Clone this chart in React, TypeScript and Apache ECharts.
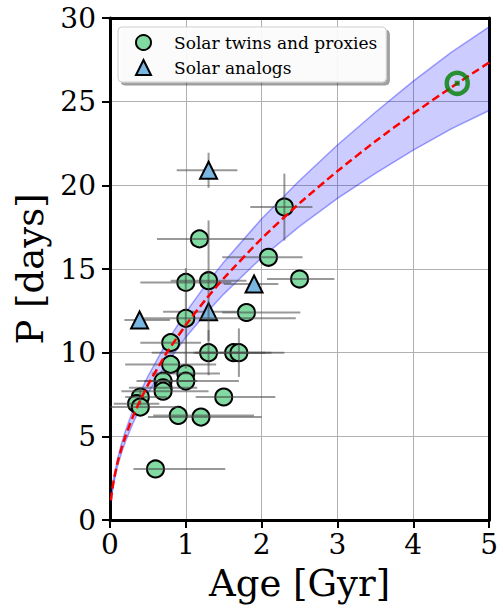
import React, { useEffect, useRef } from "react";
import * as echarts from "echarts";

// Solar twins and proxies
const twinAge = [2.3, 1.18, 2.09, 1.0, 1.3, 2.5, 1.8, 1.0, 0.8, 1.3, 1.63, 1.7, 0.8, 1.0, 1.0, 0.7, 0.7, 0.7, 1.5, 0.4, 0.35, 0.4, 0.9, 1.2, 0.6];
const twinP = [18.7, 16.8, 15.7, 14.2, 14.3, 14.4, 12.4, 12.05, 10.6, 10.0, 10.0, 10.0, 9.3, 8.75, 8.3, 8.3, 7.9, 7.7, 7.35, 7.35, 6.95, 6.75, 6.25, 6.15, 3.05];
const twinAgeErrLo = [0.45, 0.56, 0.61, 0.6, 0.5, 0.43, 0.32, 0.55, 0.4, 0.75, 0.5, 0.6, 0.6, 0.45, 0.55, 0.35, 0.45, 0.55, 0.37, 0.2, 0.3, 0.4, 0.33, 0.7, 0.29];
const twinAgeErrHi = [0.37, 0.72, 0.45, 0.6, 0.5, 0.46, 0.71, 1.45, 0.4, 0.75, 0.5, 0.6, 0.6, 0.45, 0.7, 0.45, 0.45, 0.6, 0.68, 0.35, 0.3, 0.5, 1.0, 0.8, 0.92];
const twinPErr = [2.0, 0, 0, 0, 3.6, 0, 0, 3.0, 0, 1.35, 0, 1.45, 0, 0, 0, 0, 0, 0, 0, 0.5, 0, 0, 0, 0, 0];

// Solar analogs
const analogAge = [1.3, 1.9, 1.3, 0.39];
const analogP = [20.9, 14.1, 12.45, 11.95];
const analogAgeErrLo = [0.42, 0.4, 0.6, 0.2];
const analogAgeErrHi = [0.38, 0.32, 0.6, 0.4];
const analogPErr = [1.05, 0, 0, 0];

// The Sun
const sunAge = [4.58];
const sunP = [26.1];

// Rotation-age relation and its uncertainty band
const modelAge = [0.013, 0.025, 0.05, 0.1, 0.15, 0.2, 0.3, 0.4, 0.5, 0.75, 1, 1.25, 1.5, 2, 2.5, 3, 3.5, 4, 4.5, 5];
const modelP = [1.17, 1.65, 2.38, 3.44, 4.26, 4.96, 6.15, 7.17, 8.07, 10.0, 11.65, 13.11, 14.44, 16.82, 18.93, 20.85, 22.63, 24.29, 25.85, 27.34];
const bandUpper = [1.25, 1.76, 2.53, 3.66, 4.54, 5.28, 6.55, 7.64, 8.59, 10.65, 12.41, 13.98, 15.41, 18.0, 20.29, 22.41, 24.37, 26.23, 27.94, 29.47];
const bandLower = [1.1, 1.55, 2.23, 3.22, 3.99, 4.65, 5.76, 6.72, 7.56, 9.37, 10.92, 12.27, 13.5, 15.68, 17.55, 19.22, 20.71, 22.1, 23.37, 24.47];

const xTicks = [0, 1, 2, 3, 4, 5];
const yTicks = [0, 5, 10, 15, 20, 25, 30];

const FONT = "DejaVu Serif";

export default function App() {
  const ref = useRef<HTMLDivElement>(null);
  useEffect(() => {
    if (!ref.current) return;
    const chart = echarts.init(ref.current, null, { renderer: "svg" });

    const errData = (ages: number[], ps: number[], lo: number[], hi: number[], pe: number[]) =>
      ages.map((a, i) => [a, ps[i], a - lo[i], a + hi[i], ps[i] - pe[i], ps[i] + pe[i]]);

    const errRender = (params: any, api: any) => {
      const c = api.coord([api.value(0), api.value(1)]);
      const l = api.coord([api.value(2), api.value(1)]);
      const r = api.coord([api.value(3), api.value(1)]);
      const b = api.coord([api.value(0), api.value(4)]);
      const t = api.coord([api.value(0), api.value(5)]);
      const style = { stroke: "rgba(70,70,70,0.55)", lineWidth: 2 };
      const children: any[] = [
        { type: "line", shape: { x1: l[0], y1: c[1], x2: r[0], y2: c[1] }, style },
      ];
      if (api.value(5) - api.value(4) > 0) {
        children.push({ type: "line", shape: { x1: c[0], y1: t[1], x2: c[0], y2: b[1] }, style });
      }
      return { type: "group", children };
    };

    const axisCommon = {
      type: "value" as const,
      min: 0,
    };

    chart.setOption({
      animation: false,
      backgroundColor: "#ffffff",
      grid: { left: 110, right: 9, top: 18, bottom: 89 },
      legend: {
        orient: "vertical",
        left: 118,
        top: 27,
        padding: [7, 9, 6, 17],
        itemWidth: 15,
        itemHeight: 15,
        itemGap: 8,
        data: ["Solar twins and proxies", "Solar analogs"],
        textStyle: { fontFamily: FONT, fontSize: 17, lineHeight: 16, color: "#000", padding: [0, 0, 0, 18] },
        backgroundColor: "rgba(255,255,255,0.9)",
        borderColor: "#cccccc",
        borderWidth: 1,
        borderRadius: 4,
        shadowColor: "rgba(0,0,0,0.4)",
        shadowBlur: 0,
        shadowOffsetX: 3,
        shadowOffsetY: 3,
      },
      xAxis: [
        {
          ...axisCommon,
          max: 5,
          interval: 1,
          name: "Age [Gyr]",
          nameLocation: "middle",
          nameGap: 45,
          nameTextStyle: { fontFamily: FONT, fontSize: 37, color: "#000" },
          axisLine: { show: true, onZero: false, lineStyle: { color: "#000", width: 3 } },
          axisTick: { show: true, length: 8, lineStyle: { color: "#000", width: 2 } },
          axisLabel: {
            fontFamily: FONT,
            fontSize: 28,
            color: "#000",
            margin: 10,
            formatter: (v: number) => (xTicks.includes(v) ? String(v) : ""),
          },
          splitLine: { show: true, lineStyle: { color: "#b0b0b0", width: 1 } },
        },
        {
          ...axisCommon,
          max: 5,
          interval: 1,
          position: "top",
          axisLine: { show: true, onZero: false, lineStyle: { color: "#000", width: 3 } },
          axisTick: { show: false },
          axisLabel: { show: false },
          splitLine: { show: false },
        },
      ],
      yAxis: [
        {
          ...axisCommon,
          max: 30,
          interval: 5,
          name: "P [days]",
          nameLocation: "middle",
          nameGap: 58,
          nameTextStyle: { fontFamily: FONT, fontSize: 37, color: "#000" },
          axisLine: { show: true, onZero: false, lineStyle: { color: "#000", width: 3 } },
          axisTick: { show: true, length: 8, lineStyle: { color: "#000", width: 2 } },
          axisLabel: {
            fontFamily: FONT,
            fontSize: 28,
            color: "#000",
            margin: 14,
            formatter: (v: number) => (yTicks.includes(v) ? String(v) : ""),
          },
          splitLine: { show: true, lineStyle: { color: "#b0b0b0", width: 1 } },
        },
        {
          ...axisCommon,
          max: 30,
          interval: 5,
          position: "right",
          axisLine: { show: true, onZero: false, lineStyle: { color: "#000", width: 3 } },
          axisTick: { show: false },
          axisLabel: { show: false },
          splitLine: { show: false },
        },
      ],
      series: [
        {
          type: "custom",
          name: "band",
          z: 1,
          clip: true,
          silent: true,
          data: [[modelAge[0], modelP[0]]],
          renderItem: (params: any, api: any) => {
            const up = modelAge.map((a, i) => api.coord([a, bandUpper[i]]));
            const lo = modelAge.map((a, i) => api.coord([a, bandLower[i]])).reverse();
            return {
              type: "polygon",
              shape: { points: up.concat(lo) },
              style: { fill: "rgba(0,0,255,0.2)", stroke: "none" },
            };
          },
        },
        {
          type: "line",
          name: "upper",
          z: 2,
          data: modelAge.map((a, i) => [a, bandUpper[i]]),
          symbol: "none",
          lineStyle: { color: "rgba(0,0,255,0.35)", width: 1.5 },
          silent: true,
        },
        {
          type: "line",
          name: "lower",
          z: 2,
          data: modelAge.map((a, i) => [a, bandLower[i]]),
          symbol: "none",
          lineStyle: { color: "rgba(0,0,255,0.35)", width: 1.5 },
          silent: true,
        },
        {
          type: "custom",
          name: "analogErr",
          z: 3,
          data: errData(analogAge, analogP, analogAgeErrLo, analogAgeErrHi, analogPErr),
          encode: { x: 0, y: 1 },
          renderItem: errRender,
          silent: true,
        },
        {
          type: "scatter",
          name: "Solar analogs",
          z: 4,
          symbol: "triangle",
          symbolSize: 17,
          data: analogAge.map((a, i) => [a, analogP[i]]),
          itemStyle: { color: "#7ab6e2", borderColor: "#000", borderWidth: 2, opacity: 1 },
        },
        {
          type: "scatter",
          name: "Solar twins and proxies",
          z: 5,
          symbol: "circle",
          symbolSize: 17,
          data: twinAge.map((a, i) => [a, twinP[i]]),
          itemStyle: { color: "#80daa2", borderColor: "#000", borderWidth: 2, opacity: 1 },
        },
        {
          type: "custom",
          name: "twinErr",
          z: 6,
          data: errData(twinAge, twinP, twinAgeErrLo, twinAgeErrHi, twinPErr),
          encode: { x: 0, y: 1 },
          renderItem: errRender,
          silent: true,
        },
        {
          type: "line",
          name: "model",
          z: 7,
          data: modelAge.map((a, i) => [a, modelP[i]]),
          symbol: "none",
          smooth: 0.2,
          lineStyle: { color: "#ff0000", width: 2.5, type: [8, 4] },
          silent: true,
        },
        {
          type: "scatter",
          name: "Sun",
          z: 8,
          symbol: "circle",
          symbolSize: 21,
          data: sunAge.map((a, i) => [a, sunP[i]]),
          itemStyle: { color: "rgba(0,0,0,0)", borderColor: "#008000", borderWidth: 4.5 },
        },
        {
          type: "scatter",
          name: "SunCenter",
          z: 9,
          symbol: "rect",
          symbolSize: 5,
          data: sunAge.map((a, i) => [a, sunP[i]]),
          itemStyle: { color: "#008000" },
        },
      ],
    });
    return () => chart.dispose();
  }, []);

  return (
    <div
      ref={ref}
      style={{ position: "fixed", left: 0, top: 0, width: 501, height: 609, background: "#fff" }}
    />
  );
}
